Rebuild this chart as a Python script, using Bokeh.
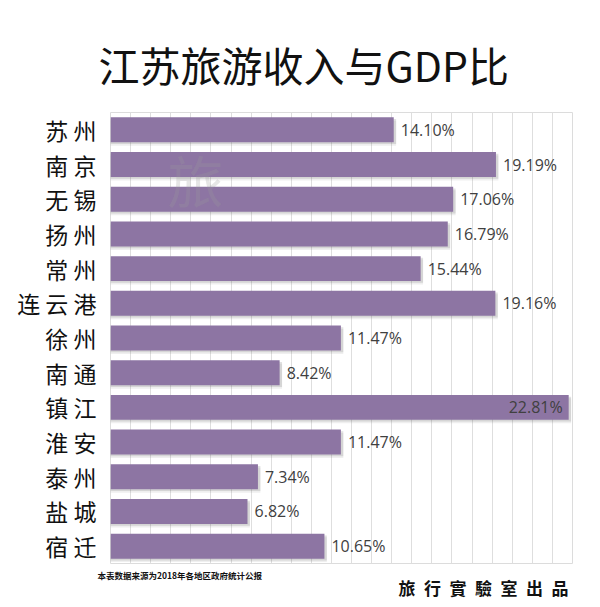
from bokeh.plotting import figure
from bokeh.models import ColumnDataSource, Range1d, FactorRange, Label, Title, SingleIntervalTicker
from bokeh.transform import dodge
from bokeh.core.properties import value
from bokeh.embed import file_html
from bokeh.resources import INLINE

# ---- data ----
cities = ["苏州", "南京", "无锡", "扬州", "常州", "连云港", "徐州",
          "南通", "镇江", "淮安", "泰州", "盐城", "宿迁"]
ratios = [14.10, 19.19, 17.06, 16.79, 15.44, 19.16, 11.47,
          8.42, 22.81, 11.47, 7.34, 6.82, 10.65]
title_text = "江苏旅游收入与GDP比"
source_note = "本表数据来源为2018年各地区政府统计公报"
credit = "旅行實驗室出品"
x_max = 23

CJK = "Noto Sans CJK SC"
BAR = "#8d75a3"

display = [" ".join(c) for c in cities]
labels = [f"{v:.2f}%" for v in ratios]
inside = [v + 3.5 > x_max for v in ratios]
label_x = [v - 0.3 if ins else v + 0.35 for v, ins in zip(ratios, inside)]
label_align = ["right" if ins else "left" for ins in inside]

src = ColumnDataSource(dict(city=display, ratio=ratios, label=labels,
                            lx=label_x, align=label_align,
                            shadow=[v + 0.12 for v in ratios]))

p = figure(width=592, height=600, output_backend="svg", toolbar_location=None,
           x_range=Range1d(0, x_max), y_range=FactorRange(*reversed(display)),
           min_border_left=110, min_border_right=20, min_border_top=112,
           min_border_bottom=37)
p.background_fill_color = "white"
p.border_fill_color = "white"
p.outline_line_color = "#dcdcdc"

# title
p.title = Title(text=title_text, align="left", offset=-12, standoff=38,
                text_font=CJK, text_font_size="41px", text_font_style="normal",
                text_color="#111111")

# grid
p.xaxis.visible = False
p.xaxis.ticker = SingleIntervalTicker(interval=1)
p.xgrid.ticker = SingleIntervalTicker(interval=1)
p.xgrid.grid_line_color = "#dedede"
p.xgrid.grid_line_width = 1
p.ygrid.grid_line_color = None

# y axis labels
yax = p.yaxis[0]
yax.axis_line_color = None
yax.major_tick_line_color = None
yax.minor_tick_line_color = None
yax.major_label_standoff = 8
yax.major_label_text_font = CJK
yax.major_label_text_font_size = "23px"
yax.major_label_text_color = "#111111"

# shadows
p.hbar(y=dodge("city", -0.1, range=p.y_range), left=0, right="shadow", height=0.72,
       source=src, fill_color="#606060", fill_alpha=0.10, line_color=None)
p.hbar(y=dodge("city", -0.05, range=p.y_range), left=0, right="shadow", height=0.72,
       source=src, fill_color="#606060", fill_alpha=0.18, line_color=None)
# bars
p.hbar(y="city", left=0, right="ratio", height=0.72, source=src,
       fill_color=BAR, line_color=None)

# value labels
p.text(x="lx", y="city", text="label", source=src, text_align="align",
       text_baseline="middle", text_font=value("Open Sans"),
       text_font_size="16px", text_color="#404040")

# watermark
p.add_layout(Label(x=85, y=385, x_units="screen", y_units="screen", text="旅",
                   text_align="center", text_baseline="middle", text_font=CJK,
                   text_font_size="56px", text_color="#9a9a9a", text_alpha=0.25))

# footer
p.add_layout(Title(text=source_note, align="left", offset=-13, standoff=7,
                   text_font=CJK, text_font_size="8.5px", text_font_style="bold",
                   text_color="#111111"), "below")
p.add_layout(Title(text="\u2002".join(credit), align="right", offset=4, standoff=-20,
                   vertical_align="top",
                   text_font=CJK, text_font_size="17px", text_font_style="bold",
                   text_color="#111111"), "below")

open("out.html", "w").write(file_html(p, INLINE))
